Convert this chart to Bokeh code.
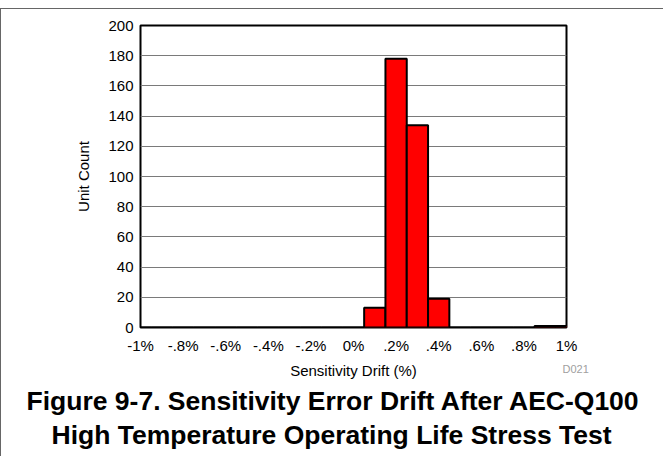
from bokeh.plotting import figure
from bokeh.models import FixedTicker, Range1d, ColumnDataSource, Title
from bokeh.embed import file_html
from bokeh.resources import INLINE

# ---- data ----
bin_centers = [-1.0, -0.9, -0.8, -0.7, -0.6, -0.5, -0.4, -0.3, -0.2, -0.1, 0.0,
               0.1, 0.2, 0.3, 0.4, 0.5, 0.6, 0.7, 0.8, 0.9, 1.0]
unit_counts = [0, 0, 0, 0, 0, 0, 0, 0, 0, 0, 0,
               13, 178, 134, 19, 0, 0, 0, 0, 1, 1]
bin_width = 0.1

x_ticks = [-1.0, -0.8, -0.6, -0.4, -0.2, 0.0, 0.2, 0.4, 0.6, 0.8, 1.0]
x_tick_labels = ["-1%", "-.8%", "-.6%", "-.4%", "-.2%", "0%", ".2%", ".4%", ".6%", ".8%", "1%"]
y_ticks = [0, 20, 40, 60, 80, 100, 120, 140, 160, 180, 200]

title_lines = ["Figure 9-7. Sensitivity Error Drift After AEC-Q100",
               "High Temperature Operating Life Stress Test"]
figure_code = "D021"

FONT = "Liberation Sans"

src = ColumnDataSource(dict(
    left=[c - bin_width / 2 for c in bin_centers],
    right=[c + bin_width / 2 for c in bin_centers],
    top=unit_counts,
    bottom=[0] * len(unit_counts),
))

p = figure(
    output_backend="svg", toolbar_location=None,
    frame_width=426, frame_height=302,
    min_border_left=139, min_border_right=97, min_border_top=16, min_border_bottom=129,
    x_range=Range1d(-1, 1), y_range=Range1d(0, 200),
    background_fill_color="white", border_fill_color="white",
    styles={"margin-top": "8px",
            "border-left": "1px solid #666666", "border-top": "1px solid #666666"},
)

p.quad(left="left", right="right", top="top", bottom="bottom", source=src,
       fill_color="#FF0000", line_color="black", line_width=2)

p.outline_line_color = "black"
p.outline_line_width = 2

p.xgrid.grid_line_color = None
p.ygrid.grid_line_color = "#7a7a7a"
p.ygrid.grid_line_width = 1
p.ygrid.ticker = FixedTicker(ticks=y_ticks)

p.xaxis.ticker = FixedTicker(ticks=x_ticks)
p.xaxis.major_label_overrides = {t: l for t, l in zip(x_ticks, x_tick_labels)}
p.yaxis.ticker = FixedTicker(ticks=y_ticks)

for ax in (p.xaxis[0], p.yaxis[0]):
    ax.axis_line_color = None
    ax.major_tick_out = 0
    ax.major_tick_in = 0
    ax.minor_tick_out = 0
    ax.minor_tick_in = 0
    ax.major_label_text_font = FONT
    ax.major_label_text_font_size = "15px"
    ax.major_label_text_color = "black"
    ax.axis_label_text_font = FONT
    ax.axis_label_text_font_size = "15px"
    ax.axis_label_text_font_style = "normal"
    ax.axis_label_text_color = "black"

p.xaxis.axis_label = "Sensitivity Drift (%)"
p.xaxis.major_label_standoff = 9
p.xaxis.axis_label_standoff = 5
p.yaxis.axis_label = "Unit Count"
p.yaxis.major_label_standoff = 7
p.yaxis.axis_label_standoff = 13

# small grey figure code, pulled up into the axis-label row
p.add_layout(Title(text=figure_code, text_font=FONT, text_font_size="11px",
                   text_font_style="normal", text_color="#a0a0a0",
                   align="left", offset=422, vertical_align="top",
                   text_baseline="middle", standoff=-37), "below")

p.add_layout(Title(text=title_lines[0], text_font=FONT, text_font_size="26.5px",
                   text_font_style="bold", text_color="black", align="left",
                   offset=-114, standoff=4), "below")
p.add_layout(Title(text=title_lines[1], text_font=FONT, text_font_size="26.5px",
                   text_font_style="bold", text_color="black", align="left",
                   offset=-89, standoff=1), "below")

open("out.html", "w").write(file_html(p, INLINE))
